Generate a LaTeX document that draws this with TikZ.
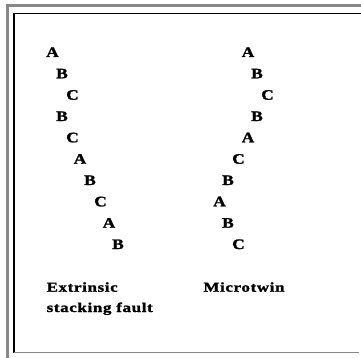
\documentclass[tikz,border=0pt]{standalone}
\usepackage{fontspec}
\setmainfont{Liberation Serif}
\newfontfamily\layerfont[FakeStretch=1.2,BoldFont={Liberation Serif Bold},BoldFeatures={FakeBold=1.6}]{Liberation Serif}
\newfontfamily\captionfont[FakeStretch=1.25,LetterSpace=5,BoldFont={Liberation Serif Bold},BoldFeatures={FakeBold=1.6}]{Liberation Serif}
\definecolor{framegray}{HTML}{888888}
\tikzset{
  layer/.style={font=\layerfont\bfseries\fontsize{14.5}{14.5}\selectfont, anchor=base west, inner sep=0pt},
  caption/.style={font=\captionfont\bfseries\fontsize{13.5}{13.5}\selectfont, anchor=base west, inner sep=0pt},
}
\begin{document}
\begin{tikzpicture}[x=1pt,y=-1pt]
  \useasboundingbox (0,0) rectangle (361,358);
  % outer grey frame (top and left bands)
  \fill[framegray] (6,4) rectangle (361,7);
  \fill[framegray] (6,4) rectangle (9,358);
  % inner black frame and grey bottom rule
  \draw[black, line width=1.2pt] (14,353) -- (14,13.5) -- (361,13.5);
  \draw[framegray, line width=1pt] (14,352.5) -- (359,352.5);
  % extrinsic stacking fault sequence
  \foreach \n/\x/\y/\t in {1/46/57/A, 2/56/78.3/B, 3/66/99.7/C, 4/56/121/B, 5/66/142.3/C,
                           6/73.5/163.7/A, 7/84/185/B, 8/94/206.3/C, 9/102.5/227.7/A, 10/112/249/B}
    \node[layer] (e\n) at (\x,\y) {\t};
  % microtwin sequence
  \foreach \n/\x/\y/\t in {1/241.5/57/A, 2/251/78.3/B, 3/261/99.7/C, 4/251/121/B, 5/241.5/142.3/A,
                           6/232/163.7/C, 7/222/185/B, 8/213/206.3/A, 9/222/227.7/B, 10/232/249/C}
    \node[layer] (m\n) at (\x,\y) {\t};
  % captions
  \node[caption] (ecap1) at (46.5,291.7) {Extrinsic};
  \node[caption] (ecap2) at (46.5,312) {stacking fault};
  \node[caption] (mcap) at (203.3,291.7) {Microtwin};
\end{tikzpicture}
\end{document}
